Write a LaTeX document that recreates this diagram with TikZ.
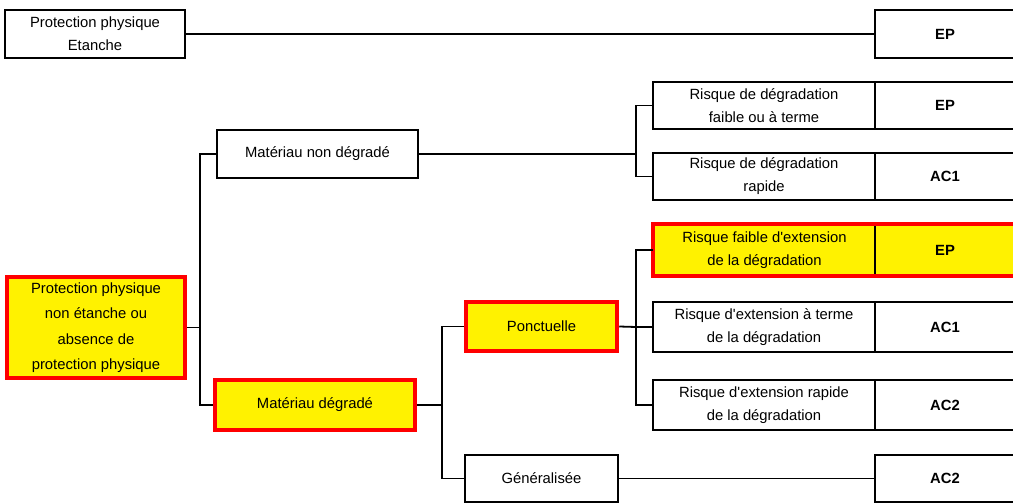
\documentclass[tikz,border=0pt]{standalone}
\usepackage{fontspec}
\setmainfont{Liberation Sans}

\begin{document}
\begin{tikzpicture}[x=1pt,y=-1pt,line width=1.8pt,
  boite/.style={draw,line width=1.8pt,align=center,inner sep=0pt,font=\fontsize{14.8}{23}\selectfont},
  jaune/.style={boite,fill=yellow},
  rouge/.style={draw=red,line width=4.5pt},
  code/.style={boite,minimum width=140pt,font=\fontsize{14.8}{23}\selectfont\bfseries}]
 \useasboundingbox (0,0) rectangle (1013,503);
 \node[boite,minimum width=180pt,minimum height=48pt] (ppe) at (95,34) {Protection physique\\Etanche}; %haut
 \node[code,minimum height=48pt] (c0) at (945,34) {EP};
 \draw (ppe.east)--(c0.west);
 \node[jaune,rouge,minimum width=178pt,minimum height=101pt,font=\fontsize{14.8}{25.5}\selectfont] (ppn) at (96,327.5) {Protection physique\\non étanche ou\\absence de\\protection physique}; %racine
 \node[boite,minimum width=201pt,minimum height=48pt] (mnd) at (317.5,154) {Matériau non dégradé};
 \node[jaune,rouge,minimum width=200pt,minimum height=50pt] (md) at (315,405) {Matériau dégradé};
 \coordinate (j1) at (200,327.5);
 \draw (ppn.east)--(j1);
 \draw (mnd.west)-|(j1)|-(md.west);
 % non degrade
 \node[boite,minimum width=222pt,minimum height=47pt] (r1) at (764,105.5) {Risque de dégradation\\faible ou à terme};
 \node[code,minimum height=47pt] (c1) at (945,105.5) {EP};
 \node[boite,minimum width=222pt,minimum height=47pt] (r2) at (764,176.5) {Risque de dégradation\\rapide};
 \node[code,minimum height=47pt] (c2) at (945,176.5) {AC1};
 \coordinate (j2) at (636,154);
 \draw (mnd.east)--(j2);
 \draw (r1.west)-|(j2)|-(r2.west);
 % degrade
 \node[jaune,rouge,minimum width=151pt,minimum height=49pt] (pon) at (541.5,326.5) {Ponctuelle};
 \node[boite,minimum width=153pt,minimum height=47pt] (gen) at (541.5,478.5) {Généralisée};
 \node[code,minimum height=47pt] (c6) at (945,478.5) {AC2};
 \coordinate (j3) at (442,405);
 \draw (md.east)--(j3);
 \draw (pon.west)-|(j3)|-(gen.west);
 \draw (gen.east)--(c6.west);
 % ponctuelle
 \node[jaune,minimum width=221pt,minimum height=50pt] (r3) at (764.5,250) {Risque faible d\textquotesingle extension\\de la dégradation};
 \node[jaune,code,minimum height=50pt] (c3) at (945,250) {EP};
 \draw[rouge] (r3.north west) rectangle (c3.south east);
 \node[boite,minimum width=222pt,minimum height=50pt] (r4) at (764,327) {Risque d\textquotesingle extension à terme\\de la dégradation};
 \node[code,minimum height=50pt] (c4) at (945,327) {AC1};
 \node[boite,minimum width=222pt,minimum height=50pt] (r5) at (764,405) {Risque d\textquotesingle extension rapide\\de la dégradation};
 \node[code,minimum height=50pt] (c5) at (945,405) {AC2};
 \coordinate (j4) at (636,327);
 \draw (pon.east)--(j4);
 \draw (r3.west)-|(j4)|-(r5.west);
 \draw (j4)--(r4.west);
\end{tikzpicture}
\end{document}
